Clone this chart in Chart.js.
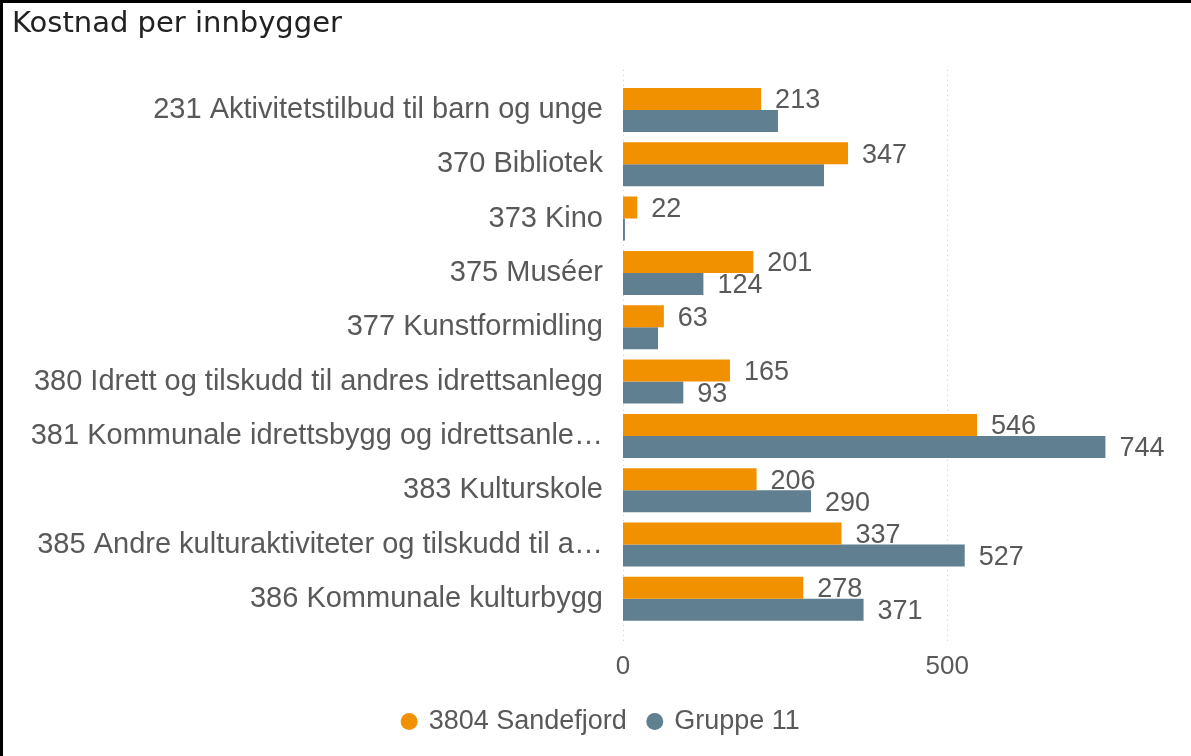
<!DOCTYPE html>
<html>
<head>
<meta charset="utf-8">
<script src="https://cdn.jsdelivr.net/npm/chart.js@4"></script>
<style>
  html, body { margin:0; padding:0; background:#fff; }
  #wrap { position:relative; width:1191px; height:756px; box-sizing:border-box;
          border-top:3px solid #000; border-left:3px solid #000; }
</style>
</head>
<body>
<div id="wrap"><canvas id="chart"></canvas></div>
<script>
// data
const categories = [
  '231 Aktivitetstilbud til barn og unge',
  '370 Bibliotek',
  '373 Kino',
  '375 Muséer',
  '377 Kunstformidling',
  '380 Idrett og tilskudd til andres idrettsanlegg',
  '381 Kommunale idrettsbygg og idrettsanle…',
  '383 Kulturskole',
  '385 Andre kulturaktiviteter og tilskudd til a…',
  '386 Kommunale kulturbygg'
];
const sandefjord = [213, 347, 22, 201, 63, 165, 546, 206, 337, 278];
const gruppe11   = [239, 310, 3, 124, 54, 93, 744, 290, 527, 371];
const xTicks = [0, 500];

const ORANGE = '#F29100';
const SLATE = '#607F90';
const TXT = '#595959';
const FONT = "'Liberation Sans', Arial, sans-serif";

// dotted vertical gridlines, a bit taller than the plot area
const dottedGrid = {
  id:'dottedGrid',
  beforeDatasetsDraw(chart){
    const {ctx, chartArea, scales} = chart;
    ctx.save();
    ctx.strokeStyle = '#c8c8c8';
    ctx.lineWidth = 1;
    ctx.setLineDash([1, 4]);
    xTicks.forEach(v => {
      const x = Math.round(scales.x.getPixelForValue(v)) + 0.5;
      ctx.beginPath();
      ctx.moveTo(x, chartArea.top - 13);
      ctx.lineTo(x, chartArea.bottom + 15);
      ctx.stroke();
    });
    ctx.restore();
  }
};

// value labels after bar end; gray ones hidden when they collide with orange ones
const valueLabels = {
  id:'valueLabels',
  afterDatasetsDraw(chart){
    const {ctx} = chart;
    ctx.save();
    ctx.font = '27px ' + FONT;
    ctx.fillStyle = TXT;
    ctx.textBaseline = 'middle';
    const m0 = chart.getDatasetMeta(0), m1 = chart.getDatasetMeta(1);
    categories.forEach((c, i) => {
      const a = m0.data[i], b = m1.data[i];
      const ta = String(sandefjord[i]), tb = String(gruppe11[i]);
      const ax = a.x + 14, bx = b.x + 14;
      const aw = ctx.measureText(ta).width, bw = ctx.measureText(tb).width;
      ctx.fillText(ta, ax, a.y + 2);
      const overlap = bx < ax + aw && ax < bx + bw;
      if(!overlap) ctx.fillText(tb, bx, b.y + 2);
    });
    ctx.restore();
  }
};

const canvas = document.getElementById('chart');
canvas.width = 1188; canvas.height = 753;

new Chart(canvas.getContext('2d'), {
  type:'bar',
  data:{
    labels: categories,
    datasets:[
      { label:'3804 Sandefjord', data:sandefjord, backgroundColor:ORANGE, categoryPercentage:0.81, barPercentage:1 },
      { label:'Gruppe 11', data:gruppe11, backgroundColor:SLATE, categoryPercentage:0.81, barPercentage:1 }
    ]
  },
  options:{
    indexAxis:'y',
    responsive:false,
    animation:false,
    layout:{ padding:{ left:9, right:0, top:0, bottom:11 } },
    scales:{
      x:{
        min:0, max:876,
        grid:{ display:false },
        border:{ display:false },
        afterBuildTicks(s){ s.ticks = xTicks.map(v => ({value:v})); },
        afterFit(s){ s.height = 60; },
        ticks:{ color:TXT, font:{ family:FONT, size:26 }, padding:17 }
      },
      y:{
        grid:{ display:false },
        border:{ display:false },
        afterFit(s){ s.width = 611; },
        ticks:{ color:TXT, font:{ family:FONT, size:29 }, padding:12, autoSkip:false }
      }
    },
    plugins:{
      title:{
        display:true, text:'Kostnad per innbygger', align:'start',
        color:'#222222', font:{ family:"'DejaVu Sans', sans-serif", size:29, weight:'normal' },
        padding:{ top:4, bottom:41 }
      },
      legend:{
        position:'bottom',
        labels:{ usePointStyle:true, pointStyle:'circle', boxWidth:12, boxHeight:12,
                 color:TXT, font:{ family:FONT, size:27 }, padding:22 }
      },
      tooltip:{ enabled:false }
    }
  },
  plugins:[dottedGrid, valueLabels]
});
</script>
</body>
</html>
